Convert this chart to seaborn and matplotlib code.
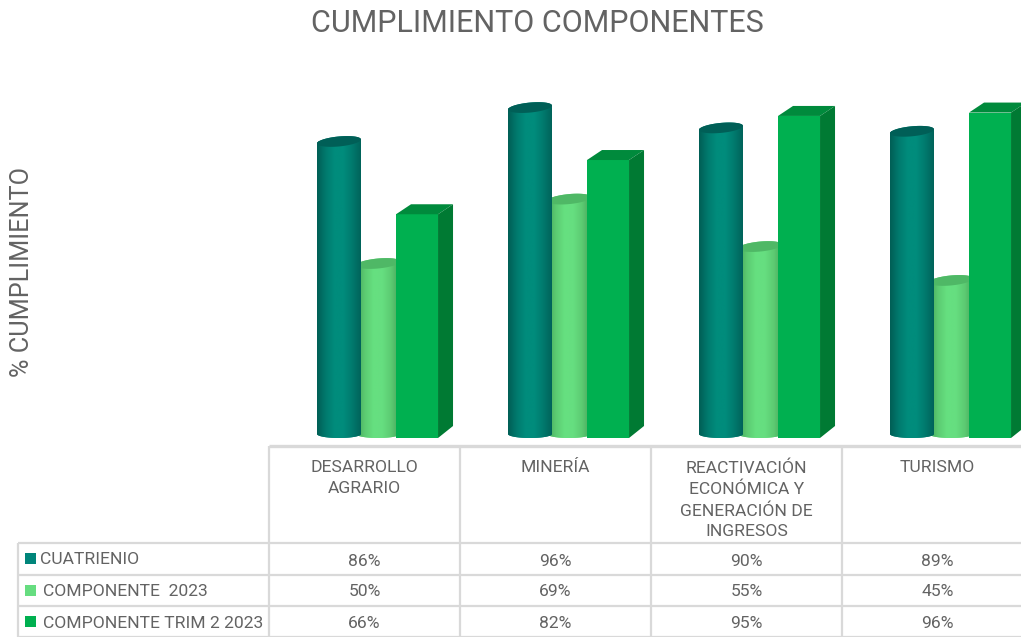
import numpy as np
import pandas as pd
import seaborn as sns
import matplotlib
matplotlib.use("Agg")
import matplotlib.pyplot as plt
from matplotlib.colors import LinearSegmentedColormap
from matplotlib.patches import Polygon, Rectangle

# ---------- data ----------
categorias = ["DESARROLLO\nAGRARIO", "MINERÍA",
              "REACTIVACIÓN\nECONÓMICA Y\nGENERACIÓN DE\nINGRESOS", "TURISMO"]
series = ["CUATRIENIO", "COMPONENTE  2023", "COMPONENTE TRIM 2 2023"]
cuatrienio = [86, 96, 90, 89]
componente_2023 = [50, 69, 55, 45]
componente_trim2 = [66, 82, 95, 96]
titulo = "CUMPLIMIENTO COMPONENTES"
eje_y = "% CUMPLIMIENTO"
colores = ["#00857A", "#66DD80", "#00B050"]

# ---------- layout ----------
W, H = 1021, 637
BASE_PX = 438
PX_PER_PCT = 3.39
CAT_PX = 191
CAT0_PX = 378
TEXT = "#636363"
GRID = "#D9D9D9"
FONT = "Roboto"

sns.set_theme(style="white")
plt.rcParams["font.family"] = [FONT, "DejaVu Sans"]

fig = plt.figure(figsize=(W / 100, H / 100), dpi=100, facecolor="white")
ax = fig.add_axes([269 / W, (H - BASE_PX) / H, (W - 269) / W, BASE_PX / H])

df = pd.DataFrame({
    "categoria": categorias * 3,
    "serie": np.repeat(series, 4),
    "valor": cuatrienio + componente_2023 + componente_trim2,
})
sns.barplot(data=df, x="categoria", y="valor", hue="serie", order=categorias,
            hue_order=series, palette=colores, saturation=1, width=0.613,
            dodge=True, legend=False, ax=ax, linewidth=0)

xlim = ((269 - CAT0_PX) / CAT_PX, (W - CAT0_PX) / CAT_PX)
ylim = (0, BASE_PX / PX_PER_PCT)
ax.set_xlim(xlim)
ax.set_ylim(ylim)
ax.set_axis_off()

dx = 1 / CAT_PX      # one pixel in x data units
dy = 1 / PX_PER_PCT  # one pixel in y data units
t = np.linspace(0, np.pi, 40)


def cylinder(bar, width_px, cmap, cap_color, z):
    cx = bar.get_x() + bar.get_width() / 2
    a = width_px / 2 * dx
    top = bar.get_height() + 5 * dy
    b, tilt = 5 * dy, 2.0 * dy
    bar.set_x(cx - a)
    bar.set_width(2 * a)
    bar.set_height(top)
    bar.set_zorder(z)
    # outline: rounded bottom left to right, then upper cap right to left
    xs_b = cx - a * np.cos(t)
    ys_b = 4 * dy - 4 * dy * np.sin(t)
    xs_t = cx + a * np.cos(t)
    ys_t = top + b * np.sin(t) + tilt * np.cos(t)
    outline = Polygon(np.c_[np.r_[xs_b, xs_t], np.r_[ys_b, ys_t]],
                      closed=True, transform=ax.transData)
    bar.set_clip_path(outline)
    im = ax.imshow(np.linspace(0, 1, 128)[None, :], cmap=cmap, aspect="auto",
                   extent=(cx - a, cx + a, 0, top + 3 * b),
                   interpolation="bilinear", zorder=z + 0.1)
    im.set_clip_path(outline)
    tt = np.linspace(0, 2 * np.pi, 80)
    ax.add_patch(Polygon(np.c_[cx + a * np.cos(tt),
                               top + b * np.sin(tt) + tilt * np.cos(tt)],
                         closed=True, fc=cap_color, ec="none", zorder=z + 0.2))


def box(bar, z):
    x0, w, h = bar.get_x(), bar.get_width(), bar.get_height()
    x0 = x0 + w / 2 - 21 * dx
    w = 42 * dx
    bar.set_x(x0)
    bar.set_width(w)
    bar.set_zorder(z)
    d_x, d_y = 15 * dx, 10 * dy
    ax.add_patch(Polygon([(x0, h), (x0 + w, h), (x0 + w + d_x, h + d_y), (x0 + d_x, h + d_y)],
                         closed=True, fc="#008A3C", ec="none", zorder=z))
    ax.add_patch(Polygon([(x0 + w, 0), (x0 + w + d_x, 1.2 * d_y), (x0 + w + d_x, h + d_y), (x0 + w, h)],
                         closed=True, fc="#007A33", ec="none", zorder=z))


teal = LinearSegmentedColormap.from_list("teal", ["#005E55", "#007A6E", "#008C7C", "#008C7C", "#007A6E", "#00635A"])
light = LinearSegmentedColormap.from_list("light", ["#46A45A", "#5CCB72", "#66E080", "#66DE80", "#5CCB72", "#46A45A"])

for b in ax.containers[1]:
    cylinder(b, 44, light, "#4FB866", 2)
for b in ax.containers[0]:
    cylinder(b, 44, teal, "#005F57", 3)
for b in ax.containers[2]:
    box(b, 4)
ax.set_xlim(xlim)
ax.set_ylim(ylim)

# ---------- table overlay in pixel coordinates ----------
tb = fig.add_axes([0, 0, 1, 1], facecolor="none")
tb.set_xlim(0, W)
tb.set_ylim(H, 0)
tb.set_axis_off()

col_x = [269, 460, 651, 842]
row_y = [543, 575, 606, 637]
lw = 1.6
tb.plot([269, W], [446, 446], color=GRID, lw=2.4, solid_capstyle="butt")
for x in col_x:
    tb.plot([x, x], [446, 637], color=GRID, lw=lw, solid_capstyle="butt")
tb.plot([18, 18], [543, 637], color=GRID, lw=lw, solid_capstyle="butt")
for y in row_y:
    tb.plot([18, W], [y, y], color=GRID, lw=lw, solid_capstyle="butt")

FS = 12.6
for i, cat in enumerate(categorias):
    tb.text(col_x[i] + 95.5, 460.5, cat, ha="center", va="top", fontsize=FS,
            color=TEXT, linespacing=1.47)

valores = [cuatrienio, componente_2023, componente_trim2]
centros = [559, 590, 622]
swatch_y = [553, 585, 616]
label_x = [40, 43, 43]
for r, s in enumerate(series):
    tb.add_patch(Rectangle((25, swatch_y[r]), 11, 11, fc=colores[r], ec="none"))
    tb.text(label_x[r], centros[r] + 1, s, ha="left", va="center", fontsize=FS,
            color=TEXT)
    for c in range(4):
        tb.text(col_x[c] + 95.5, centros[r] + 2, f"{valores[r][c]}%", ha="center",
                va="center", fontsize=FS, color=TEXT)

tb.text(537.5, 23.5, titulo, ha="center", va="center", fontsize=22, color=TEXT)
tb.text(22, 272, eje_y, ha="center", va="center", rotation=90, fontsize=18.2, color=TEXT)

fig.savefig("out.png", dpi=100, facecolor="white")
